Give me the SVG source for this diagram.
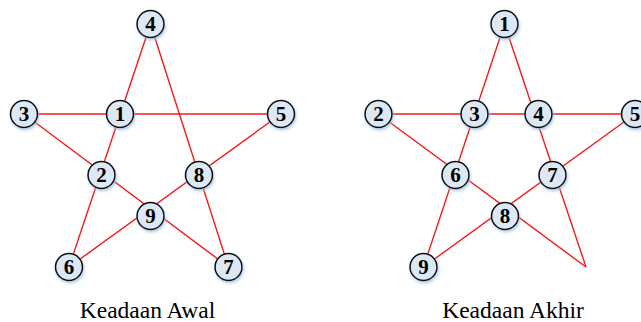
<svg xmlns="http://www.w3.org/2000/svg" width="641" height="322" viewBox="0 0 641 322">
  <defs>
    <filter id="glow" x="-50%" y="-50%" width="200%" height="200%">
      <feDropShadow dx="1" dy="2" stdDeviation="1.6" flood-color="#9fbfe0" flood-opacity="0.8"/>
    </filter>
  </defs>
  <style>
    .edge { stroke: #f01c1c; stroke-width: 1.4; fill: none; }
    .node circle { fill: #dde8f5; stroke: #111; stroke-width: 1.6; filter: url(#glow); }
    .node text { font-family: "Liberation Serif", "Times New Roman", serif; font-weight: bold; font-size: 21px; fill: #000; text-anchor: middle; }
    .caption { font-family: "Liberation Serif", "Times New Roman", serif; font-size: 23.5px; fill: #000; text-anchor: middle; }
  </style>

  <!-- star lines, initial state -->
  <g id="edges-awal">
    <line class="edge" x1="150.5" y1="24" x2="69" y2="267"/>
    <line class="edge" x1="150.5" y1="24" x2="228.5" y2="267"/>
    <line class="edge" x1="24" y1="114" x2="281" y2="114"/>
    <line class="edge" x1="24" y1="114" x2="228.5" y2="267"/>
    <line class="edge" x1="281" y1="114" x2="69" y2="267"/>
  </g>

  <!-- star lines, final state -->
  <g id="edges-akhir">
    <line class="edge" x1="504.5" y1="24" x2="423.5" y2="267"/>
    <line class="edge" x1="504.5" y1="24" x2="586" y2="267"/>
    <line class="edge" x1="378.5" y1="114" x2="635" y2="114"/>
    <line class="edge" x1="378.5" y1="114" x2="586" y2="267"/>
    <line class="edge" x1="635" y1="114" x2="423.5" y2="267"/>
  </g>

  <!-- nodes, initial state -->
  <g id="awal-1" class="node"><circle cx="120" cy="114" r="13.5"/><text x="120" y="121">1</text></g>
  <g id="awal-2" class="node"><circle cx="101.5" cy="175" r="13.5"/><text x="101.5" y="182">2</text></g>
  <g id="awal-3" class="node"><circle cx="24" cy="114" r="13.5"/><text x="24" y="121">3</text></g>
  <g id="awal-4" class="node"><circle cx="150.5" cy="24" r="13.5"/><text x="150.5" y="31">4</text></g>
  <g id="awal-5" class="node"><circle cx="281" cy="114" r="13.5"/><text x="281" y="121">5</text></g>
  <g id="awal-6" class="node"><circle cx="69" cy="267" r="13.5"/><text x="69" y="274">6</text></g>
  <g id="awal-7" class="node"><circle cx="228.5" cy="267" r="13.5"/><text x="228.5" y="274">7</text></g>
  <g id="awal-8" class="node"><circle cx="199" cy="175" r="13.5"/><text x="199" y="182">8</text></g>
  <g id="awal-9" class="node"><circle cx="150.5" cy="216" r="13.5"/><text x="150.5" y="223">9</text></g>

  <!-- nodes, final state -->
  <g id="akhir-1" class="node"><circle cx="504.5" cy="24" r="13.5"/><text x="504.5" y="31">1</text></g>
  <g id="akhir-2" class="node"><circle cx="378.5" cy="114" r="13.5"/><text x="378.5" y="121">2</text></g>
  <g id="akhir-3" class="node"><circle cx="474.5" cy="114" r="13.5"/><text x="474.5" y="121">3</text></g>
  <g id="akhir-4" class="node"><circle cx="538.5" cy="114" r="13.5"/><text x="538.5" y="121">4</text></g>
  <g id="akhir-5" class="node"><circle cx="635" cy="114" r="13.5"/><text x="635" y="121">5</text></g>
  <g id="akhir-6" class="node"><circle cx="455.5" cy="175" r="13.5"/><text x="455.5" y="182">6</text></g>
  <g id="akhir-7" class="node"><circle cx="552.5" cy="175" r="13.5"/><text x="552.5" y="182">7</text></g>
  <g id="akhir-8" class="node"><circle cx="505" cy="216" r="13.5"/><text x="505" y="223">8</text></g>
  <g id="akhir-9" class="node"><circle cx="423.5" cy="267" r="13.5"/><text x="423.5" y="274">9</text></g>

  <!-- captions -->
  <text class="caption" x="147.5" y="318">Keadaan Awal</text>
  <text class="caption" x="513" y="318">Keadaan Akhir</text>
</svg>
